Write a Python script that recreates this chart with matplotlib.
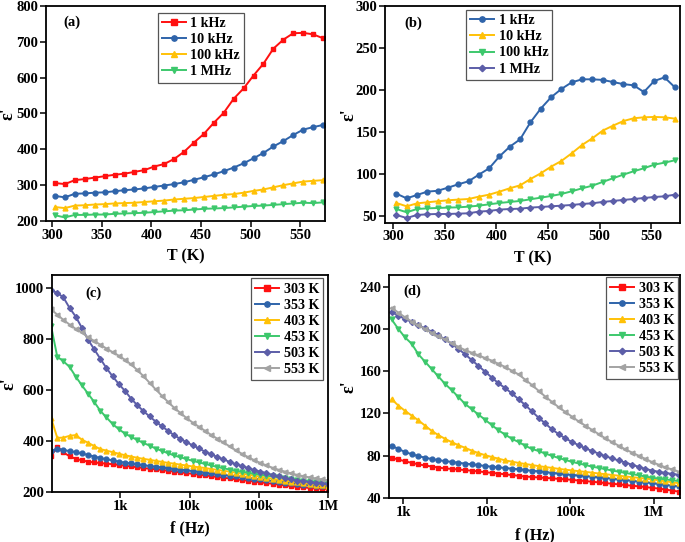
import matplotlib
matplotlib.use("Agg")
import matplotlib.pyplot as plt
from matplotlib.ticker import FixedLocator, FixedFormatter

plt.rcParams['font.family'] = ['Liberation Serif', 'DejaVu Serif']
plt.rcParams['font.weight'] = 'bold'
plt.rcParams['axes.labelweight'] = 'bold'

# ---------------- data ----------------
T = [303, 313, 323, 333, 343, 353, 363, 373, 383, 393, 403, 413, 423, 433,
     443, 453, 463, 473, 483, 493, 503, 513, 523, 533, 543, 553, 563, 573]

a_1k = [306, 303, 314, 317, 321, 325, 329, 332, 337, 342, 352, 359, 373, 393,
        419, 443, 474, 502, 541, 570, 606, 639, 681, 706, 724, 725, 721, 710]
a_10k = [270, 266, 276, 277, 279, 280, 283, 286, 288, 291, 295, 299, 303, 308,
         315, 322, 330, 339, 349, 361, 375, 390, 408, 423, 440, 455, 462, 468]
a_100k = [239, 236, 243, 244, 246, 247, 249, 250, 251, 253, 255, 257, 260, 262,
          264, 267, 270, 273, 275, 279, 284, 288, 294, 300, 305, 310, 312, 314]
a_1M = [216, 210, 217, 217, 218, 218, 220, 221, 222, 223, 225, 227, 229, 230,
        232, 234, 235, 236, 238, 240, 242, 243, 245, 247, 249, 251, 250, 252]

b_1k = [76.6, 71, 75, 79, 80, 83.7, 87.7, 91.3, 99.2, 106.8, 121, 132.5, 141.3, 161.5,
        177.8, 191.3, 201.2, 209.1, 212.7, 212.7, 212, 209.5, 207, 205.6, 197.6, 210.7, 215, 203.2]
b_10k = [65.5, 61.5, 65, 66.3, 67.5, 68.7, 69.5, 70.2, 73, 75.4, 79, 83, 86.5, 94,
         100.8, 108.7, 115.5, 124.6, 134.5, 142.5, 151.6, 157.5, 163, 166.3, 167.5, 167.9, 167.5, 165.9]
b_100k = [58.3, 54.4, 58.3, 59.1, 59.5, 60, 60.3, 61.1, 62.3, 63.9, 65.5, 66.7, 67.9, 69.9,
          71.8, 73.8, 76.2, 79.4, 82.9, 86.1, 90.5, 94.9, 99.2, 103.2, 106.8, 111.1, 113.5, 116.3]
b_1M = [51.2, 47.6, 51.2, 52, 52.4, 52.4, 52.8, 53.2, 55.2, 56, 57.6, 58.3, 58.7, 60,
        60.7, 61.5, 62.3, 63.1, 64.3, 65.1, 66.7, 67.9, 69.1, 70.2, 71.4, 72.6, 73.4, 75.4]

f_c = [100, 122.7, 150.6, 184.8, 226.8, 278.3, 341.5, 419.0, 514.2, 631.0,
       774.3, 950.1, 1166, 1430, 1755, 2154, 2643, 3244, 3981, 4885,
       5995, 7356, 9027, 11077, 13594, 16681, 20470, 25119, 30824, 37826,
       46416, 56958, 69894, 85770, 105250, 129155, 158489, 194486, 238659, 292864,
       359381, 441005, 541170, 664083, 814913, 1000000]

c_303 = [340, 378, 355, 340, 330, 324, 319, 316, 313, 311, 309, 306, 303, 300, 297, 294,
         291, 289, 286, 283, 280, 277, 274, 271, 268, 265, 262, 259, 256, 253, 250, 247,
         244, 241, 238, 235, 232, 229, 226, 223, 220, 218, 216, 214, 213, 212]
c_353 = [362, 368, 365, 360, 356, 351, 345, 339, 333, 328, 324, 319, 315, 312, 308, 305,
         302, 299, 296, 293, 290, 288, 285, 282, 279, 276, 273, 270, 267, 264, 261, 258,
         255, 252, 249, 246, 243, 240, 237, 234, 232, 229, 227, 225, 223, 221]
c_403 = [490, 412, 413, 420, 423, 405, 393, 380, 368, 362, 356, 350, 344, 339, 334, 330,
         326, 322, 318, 314, 311, 307, 304, 300, 297, 294, 290, 287, 283, 280, 276, 272,
         268, 264, 260, 256, 252, 248, 245, 241, 238, 235, 232, 229, 227, 225]
c_453 = [850, 730, 712, 690, 652, 618, 585, 553, 518, 492, 466, 446, 429, 416, 404, 392,
         382, 370, 361, 352, 343, 336, 329, 322, 316, 310, 304, 298, 293, 288, 283, 279,
         275, 271, 268, 264, 261, 257, 254, 251, 248, 245, 243, 240, 238, 236]
c_503 = [990, 980, 962, 921, 887, 843, 797, 759, 722, 685, 653, 623, 596, 566, 540, 517,
         496, 476, 457, 440, 422, 408, 395, 383, 371, 358, 348, 337, 328, 318, 309, 302,
         294, 286, 280, 274, 267, 261, 255, 250, 245, 242, 239, 236, 234, 232]
c_553 = [915, 895, 874, 856, 839, 825, 806, 792, 777, 762, 748, 734, 718, 700, 678, 654,
         628, 602, 577, 553, 530, 510, 490, 472, 456, 440, 424, 409, 394, 379, 364, 350,
         337, 325, 314, 304, 295, 287, 280, 273, 267, 262, 257, 253, 249, 246]

f_d = [724.4, 871.0, 1047, 1259, 1514, 1820, 2188, 2630, 3162, 3802,
       4571, 5495, 6607, 7943, 9550, 11482, 13804, 16596, 19953, 23988,
       28840, 34674, 41687, 50119, 60256, 72444, 87096, 104713, 125893, 151356,
       181970, 218776, 263027, 316228, 380189, 457088, 549541, 660693, 794328, 954993,
       1148154, 1380384, 1659587, 1995262]

d_303 = [78.0, 76.5, 74.7, 73.3, 71.8, 70.8, 69.8, 68.8, 68.0, 67.5, 67.0, 66.4, 65.8, 65.2,
         64.4, 63.8, 63.1, 62.4, 61.7, 61.0, 60.3, 59.9, 59.4, 59.0, 58.6, 58.1, 57.7, 57.2,
         56.5, 56.0, 55.4, 54.8, 54.1, 53.5, 52.9, 52.2, 51.6, 51.0, 50.3, 49.6, 48.9, 48.0,
         47.0, 46.0]
d_353 = [89.4, 86.5, 83.5, 81.5, 79.6, 78.2, 76.9, 75.8, 74.9, 74.2, 73.3, 72.6, 71.9, 71.1,
         70.3, 69.6, 69.0, 68.4, 67.8, 67.2, 66.5, 65.8, 65.2, 64.5, 63.8, 63.2, 62.5, 61.8,
         61.3, 60.8, 60.2, 59.6, 59.1, 58.4, 57.7, 57.0, 56.3, 55.6, 54.9, 54.0, 53.3, 52.5,
         51.7, 51.0]
d_403 = [133.5, 127.5, 122.5, 118, 113.5, 108.5, 103.5, 99.5, 96, 92.8, 90, 87.5, 84.8, 82.5,
         80.5, 78.8, 77.2, 75.6, 74.4, 73.2, 72.2, 71.2, 70.2, 69.3, 68.5, 67.6, 66.8, 66.1,
         65.4, 64.7, 64.0, 63.2, 62.5, 61.8, 61.1, 60.4, 59.7, 59.1, 58.4, 57.6, 56.7, 55.8,
         54.9, 54.0]
d_453 = [209, 200, 192, 186, 176, 169, 162, 155, 148, 142, 135.6, 129, 124, 119,
         114, 109, 104, 100, 96, 93, 89.5, 86.4, 84.5, 82, 80, 77.8, 76, 74.2,
         72.7, 71.2, 69.7, 68.5, 67.3, 66, 64.9, 63.7, 62.6, 61.5, 60.3, 59.2, 58.4, 57.6,
         56.8, 56.0]
d_503 = [216, 212.5, 209.5, 206.5, 203.5, 200.5, 197.5, 194, 190, 186, 181, 176, 170.5, 165,
         159.5, 154, 148.5, 144, 139, 133.5, 128, 122, 116, 110.5, 105, 100.5, 96.5, 93,
         90, 87, 84.5, 82, 79.5, 77.5, 75.5, 73.5, 71.5, 69.5, 67.5, 66, 64.8, 63.7,
         62.8, 62]
d_553 = [220, 215.5, 211, 207, 203.5, 200, 196.5, 193, 190, 186.5, 183, 180, 177.5, 175,
         172.5, 170, 167, 164, 160.5, 157, 152, 147, 141.5, 136, 131, 126, 121.5, 117,
         112.5, 108.5, 104.5, 100.5, 96.5, 93, 89.5, 86, 83, 80, 77, 74, 71.5, 69,
         67, 65]

freq_labels_a = ['1 kHz', '10 kHz', '100 kHz', '1 MHz']
temp_labels = ['303 K', '353 K', '403 K', '453 K', '503 K', '553 K']
log_tick_vals = [1e3, 1e4, 1e5, 1e6]
log_tick_labels = ['1k', '10k', '100k', '1M']

# ---------------- styles ----------------
RED = '#ff1010'
BLUE = '#2f64aa'
YEL = '#ffc107'
GRN = '#3dc86c'
PUR = '#5c5ea8'
GRY = '#a3a3a3'

FS_TICK = 10.5
FS_LAB = 11.5
FS_EPS = 13
FS_LEG = 10.2
LW = 1.4
MS = 3.5

fig = plt.figure(figsize=(6.85, 5.42), dpi=100)
W, H = 685.0, 542.0


def add_ax(l, t, r, b):
    return fig.add_axes([l / W, 1 - b / H, (r - l) / W, (b - t) / H])


axA = add_ax(46, 6, 325, 221)
axB = add_ax(385, 6, 680, 222.7)
axC = add_ax(52, 275, 328, 492)
axD = add_ax(389, 275, 680, 498)


def style(ax):
    for s in ax.spines.values():
        s.set_linewidth(1.3)
        s.set_color('black')
    ax.tick_params(axis='both', which='major', direction='out', length=4, width=1.1,
                   labelsize=FS_TICK, top=False, right=False, pad=1.5)
    ax.tick_params(which='minor', length=0)
    for lab in ax.get_xticklabels() + ax.get_yticklabels():
        lab.set_fontweight('bold')


def labels(ax, xlab, xy_x, xy_y):
    ax.set_xlabel(xlab, fontsize=FS_LAB, fontweight='bold')
    ax.set_ylabel("ε'", fontsize=FS_EPS, fontweight='bold')
    ax.xaxis.set_label_coords(0.5, xy_x)
    ax.yaxis.set_label_coords(xy_y, 0.5)
    ax.xaxis.label.set_va('center')
    ax.yaxis.label.set_va('center')


def legend(ax, loc, bbox):
    leg = ax.legend(loc=loc, bbox_to_anchor=bbox,
                    frameon=True, fancybox=False, framealpha=1, edgecolor='#555555',
                    handlelength=1.7, handletextpad=0.3, labelspacing=0.22,
                    borderpad=0.3, borderaxespad=0, markerscale=1.1,
                    prop={'weight': 'bold', 'size': FS_LEG})
    leg.get_frame().set_linewidth(0.9)
    return leg


def ms_for(m):
    return MS - 0.5 if m == 'D' else MS


# ---- (a)
series_a = [(a_1k, RED, 's'), (a_10k, BLUE, 'o'), (a_100k, YEL, '^'), (a_1M, GRN, 'v')]
for (vals, col, m), lab in zip(series_a, freq_labels_a):
    axA.plot(T, vals, color=col, marker=m, ms=ms_for(m), lw=LW, label=lab)
axA.set_xlim(294, 575)
axA.set_ylim(200, 800)
axA.set_xticks([300, 350, 400, 450, 500, 550])
axA.set_yticks([200, 300, 400, 500, 600, 700, 800])
labels(axA, 'T (K)', -0.166, -0.137)
axA.text(0.093, 0.926, '(a)', transform=axA.transAxes, ha='center', va='center',
         fontsize=FS_TICK, fontweight='bold')
style(axA)
legend(axA, 'upper left', ((157.7 - 46) / 279, 1 - (12.7 - 6) / 215))

# ---- (b)
series_b = [(b_1k, BLUE, 'o'), (b_10k, YEL, '^'), (b_100k, GRN, 'v'), (b_1M, PUR, 'D')]
for (vals, col, m), lab in zip(series_b, freq_labels_a):
    axB.plot(T, vals, color=col, marker=m, ms=ms_for(m), lw=LW, label=lab)
axB.set_xlim(292, 578)
axB.set_ylim(42, 300)
axB.set_xticks([300, 350, 400, 450, 500, 550])
axB.set_yticks([50, 100, 150, 200, 250, 300])
labels(axB, 'T (K)', -0.164, -0.122)
axB.text(0.097, 0.92, '(b)', transform=axB.transAxes, ha='center', va='center',
         fontsize=FS_TICK, fontweight='bold')
style(axB)
legend(axB, 'upper left', ((466 - 385) / 295, 1 - (10 - 6) / 216.7))

# ---- (c)
series_c = [(c_303, RED, 's'), (c_353, BLUE, 'o'), (c_403, YEL, '^'), (c_453, GRN, 'v'),
            (c_503, PUR, 'D'), (c_553, GRY, '<')]
for (vals, col, m), lab in zip(series_c, temp_labels):
    axC.plot(f_c, vals, color=col, marker=m, ms=ms_for(m), lw=LW, label=lab)
axC.set_xscale('log')
axC.set_xlim(103, 1.0e6)
axC.set_ylim(200, 1050)
axC.xaxis.set_major_locator(FixedLocator(log_tick_vals))
axC.xaxis.set_major_formatter(FixedFormatter(log_tick_labels))
axC.xaxis.set_minor_locator(FixedLocator([]))
axC.set_yticks([200, 400, 600, 800, 1000])
labels(axC, 'f (Hz)', -0.167, -0.155)
axC.text(0.15, 0.918, '(c)', transform=axC.transAxes, ha='center', va='center',
         fontsize=FS_TICK, fontweight='bold')
style(axC)
legend(axC, 'upper right', ((323.3 - 52) / 276, 1 - (278.3 - 275) / 217))

# ---- (d)
series_d = [(d_303, RED, 's'), (d_353, BLUE, 'o'), (d_403, YEL, '^'), (d_453, GRN, 'v'),
            (d_503, PUR, 'D'), (d_553, GRY, '<')]
for (vals, col, m), lab in zip(series_d, temp_labels):
    axD.plot(f_d, vals, color=col, marker=m, ms=ms_for(m), lw=LW, label=lab)
axD.set_xscale('log')
axD.set_xlim(674, 2.06e6)
axD.set_ylim(40, 251)
axD.xaxis.set_major_locator(FixedLocator(log_tick_vals))
axD.xaxis.set_major_formatter(FixedFormatter(log_tick_labels))
axD.xaxis.set_minor_locator(FixedLocator([]))
axD.set_yticks([40, 80, 120, 160, 200, 240])
labels(axD, 'f (Hz)', -0.166, -0.137)
axD.text(0.079, 0.925, '(d)', transform=axD.transAxes, ha='center', va='center',
         fontsize=FS_TICK, fontweight='bold')
style(axD)
legend(axD, 'upper right', ((678.3 - 389) / 291, 1 - (277.3 - 275) / 223))

fig.savefig('out.png', dpi=100)
